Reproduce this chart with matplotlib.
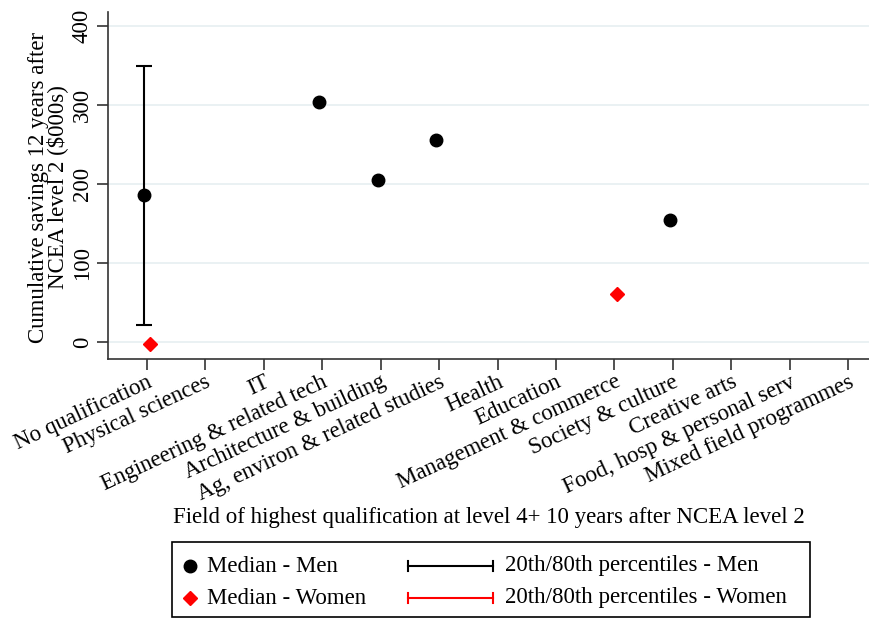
import matplotlib
matplotlib.use("Agg")
import matplotlib.pyplot as plt
import numpy as np
from matplotlib.lines import Line2D
from matplotlib.patches import Rectangle

plt.rcParams['font.family'] = ['Liberation Serif', 'DejaVu Serif']

categories = ["No qualification", "Physical sciences", "IT", "Engineering & related tech",
              "Architecture & building", "Ag, environ & related studies", "Health", "Education",
              "Management & commerce", "Society & culture", "Creative arts",
              "Food, hosp & personal serv", "Mixed field programmes"]
nan = np.nan
men_median = [187, nan, nan, 304, 206, 256, nan, nan, nan, 155, nan, nan, nan]
men_p20 = [22, nan, nan, nan, nan, nan, nan, nan, nan, nan, nan, nan, nan]
men_p80 = [350, nan, nan, nan, nan, nan, nan, nan, nan, nan, nan, nan, nan]
women_median = [-2, nan, nan, nan, nan, nan, nan, nan, 61, nan, nan, nan, nan]
yticks = [0, 100, 200, 300, 400]
legend_labels = ["Median - Men", "Median - Women",
                 "20th/80th percentiles - Men", "20th/80th percentiles - Women"]

W, H = 870, 619
fig = plt.figure(figsize=(W/100, H/100), dpi=100)
ax = fig.add_axes([108/W, 1-359/H, (870-108)/W, (359-12)/H])

x = np.arange(len(categories))
off = 0.05
mm = np.array(men_median, float)
lo = np.array(men_p20, float)
hi = np.array(men_p80, float)
wm = np.array(women_median, float)

valid = ~np.isnan(lo)
ax.errorbar(x[valid] - off, (lo[valid] + hi[valid]) / 2,
            yerr=(hi[valid] - lo[valid]) / 2, fmt='none', ecolor='black',
            elinewidth=1.5, capsize=6, capthick=1.5, zorder=3)
ax.plot(x - off, mm, 'o', color='black', markersize=9, zorder=4, linestyle='none')
ax.plot(x + off, wm, 'D', color='red', markersize=7.5, zorder=4, linestyle='none')

ax.set_xlim(-0.662, 12.37)
ax.set_ylim(-21.1, 418.1)
ax.set_yticks(yticks)
ax.set_yticklabels([str(v) for v in yticks], rotation=90, va='center', fontsize=16.5)
ax.set_xticks(x)
ax.set_xticklabels(categories, rotation=25, ha='right', va='top',
                   rotation_mode='anchor', fontsize=16.5)
ax.tick_params(axis='both', length=8, width=1.2, color='#333333')
ax.tick_params(axis='x', pad=1)
ax.tick_params(axis='y', pad=3)

for s in ['top', 'right']:
    ax.spines[s].set_visible(False)
for s in ['left', 'bottom']:
    ax.spines[s].set_linewidth(1.2)
    ax.spines[s].set_color('#333333')

ax.grid(axis='y', color='#e6eff1', linewidth=1.2)
ax.set_axisbelow(True)

ax.set_ylabel("Cumulative savings 12 years after\nNCEA level 2 ($000s)",
              fontsize=16.5, linespacing=0.85)
ax.yaxis.set_label_coords(-0.052, 0.495)

fig.text((108+870)/2/W, 1-517/H,
         "Field of highest qualification at level 4+ 10 years after NCEA level 2",
         ha='center', va='center', fontsize=16.5)

# manual legend (figure pixel coordinates)
def fx(px):
    return px / W

def fy(py):
    return 1 - py / H

fig.add_artist(Rectangle((fx(172), fy(617)), fx(810) - fx(172), fy(542) - fy(617),
                         transform=fig.transFigure, fill=False, edgecolor='black',
                         linewidth=1.2))
rows = [566, 598]
fig.add_artist(Line2D([fx(190)], [fy(rows[0])], marker='o', color='black',
                      markersize=9, linestyle='none', transform=fig.transFigure))
fig.add_artist(Line2D([fx(190)], [fy(rows[1])], marker='D', color='red',
                      markersize=7.5, linestyle='none', transform=fig.transFigure))
for i, col in enumerate(['black', 'red']):
    yy = fy(rows[i])
    fig.add_artist(Line2D([fx(408), fx(493)], [yy, yy], color=col, lw=1.5,
                          transform=fig.transFigure))
    for xe in (408, 493):
        fig.add_artist(Line2D([fx(xe), fx(xe)], [yy - 5/H, yy + 5/H], color=col,
                              lw=1.5, transform=fig.transFigure))
fig.text(fx(207), fy(rows[0]), legend_labels[0], ha='left', va='center', fontsize=16.5)
fig.text(fx(207), fy(rows[1]), legend_labels[1], ha='left', va='center', fontsize=16.5)
fig.text(fx(505), fy(rows[0]), legend_labels[2], ha='left', va='center', fontsize=16.5)
fig.text(fx(505), fy(rows[1]), legend_labels[3], ha='left', va='center', fontsize=16.5)

fig.savefig("out.png", dpi=100)
